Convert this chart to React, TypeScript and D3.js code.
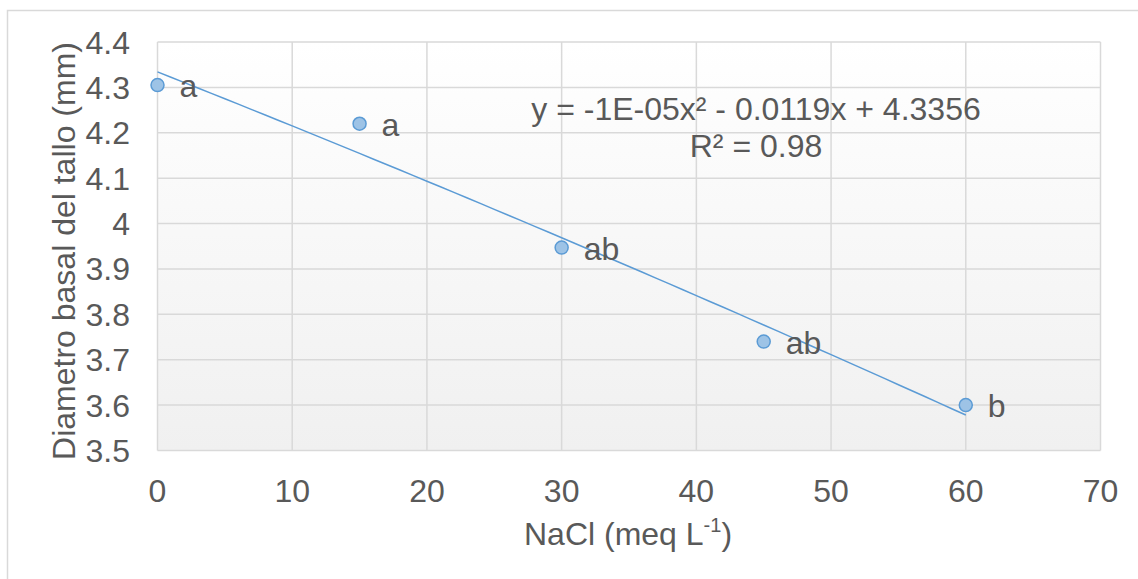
import React from "react";
import * as d3 from "d3";

const nacl = [0, 15, 30, 45, 60];
const diametro = [4.305, 4.22, 3.947, 3.74, 3.6];
const letras = ["a", "a", "ab", "ab", "b"];
const xTicks = [0, 10, 20, 30, 40, 50, 60, 70];
const yTicks = [3.5, 3.6, 3.7, 3.8, 3.9, 4.0, 4.1, 4.2, 4.3, 4.4];
const ecuacion = "y = -1E-05x² - 0.0119x + 4.3356";
const r2Texto = "R² = 0.98";

// least-squares quadratic fit of the data (Excel polynomial trendline)
function fitQuadratic(xs: number[], ys: number[]) {
  const n = xs.length;
  let s = [0, 0, 0, 0, 0];
  let t = [0, 0, 0];
  for (let i = 0; i < n; i++) {
    const x = xs[i];
    for (let k = 0; k < 5; k++) s[k] += Math.pow(x, k);
    for (let k = 0; k < 3; k++) t[k] += Math.pow(x, k) * ys[i];
  }
  const A = [
    [s[0], s[1], s[2], t[0]],
    [s[1], s[2], s[3], t[1]],
    [s[2], s[3], s[4], t[2]],
  ];
  for (let i = 0; i < 3; i++) {
    for (let j = i + 1; j < 3; j++) {
      const f = A[j][i] / A[i][i];
      for (let k = i; k < 4; k++) A[j][k] -= f * A[i][k];
    }
  }
  const c = [0, 0, 0];
  for (let i = 2; i >= 0; i--) {
    let v = A[i][3];
    for (let k = i + 1; k < 3; k++) v -= A[i][k] * c[k];
    c[i] = v / A[i][i];
  }
  return (x: number) => c[0] + c[1] * x + c[2] * x * x;
}

export default function App() {
  const W = 1138;
  const H = 579;
  const left = 157.5;
  const right = 1100.5;
  const top = 42;
  const bottom = 450.5;
  const x = d3.scaleLinear().domain([0, 70]).range([left, right]);
  const y = d3.scaleLinear().domain([3.5, 4.4]).range([bottom, top]);
  const font = "'Liberation Sans', Arial, sans-serif";
  const txt = "#595959";
  const grid = "#d9d9d9";
  const fs = 32;

  const f = fitQuadratic(nacl, diametro);
  const trendX = d3.range(0, 60.0001, 1);
  const line = d3
    .line<number>()
    .x((d) => x(d))
    .y((d) => y(f(d)));

  return (
    <svg
      width={W}
      height={H}
      style={{ position: "absolute", left: 0, top: 0, background: "#fff" }}
      fontFamily={font}
    >
      <defs>
        <linearGradient id="bg" x1="0" y1="0" x2="0" y2="1">
          <stop offset="0" stopColor="#ffffff" />
          <stop offset="1" stopColor="#f0f0f0" />
        </linearGradient>
      </defs>
      <rect x={7.5} y={10.5} width={W} height={H} fill="#fff" stroke="#d9d9d9" strokeWidth={1.5} />
      <rect x={left} y={top} width={right - left} height={bottom - top} fill="url(#bg)" />
      {yTicks.map((t) => (
        <line key={"gy" + t} x1={left} x2={right} y1={y(t)} y2={y(t)} stroke={grid} strokeWidth={1.5} />
      ))}
      {xTicks.map((t) => (
        <line key={"gx" + t} x1={x(t)} x2={x(t)} y1={top} y2={bottom} stroke={grid} strokeWidth={1.5} />
      ))}
      {yTicks.map((t) => (
        <text
          key={"ty" + t}
          x={130}
          y={y(t)}
          dy="0.36em"
          textAnchor="end"
          fontSize={fs}
          fill={txt}
        >
          {d3.format("")(+t.toFixed(1))}
        </text>
      ))}
      {xTicks.map((t) => (
        <text key={"tx" + t} x={x(t)} y={502} textAnchor="middle" fontSize={fs} fill={txt}>
          {t}
        </text>
      ))}
      <text
        transform={`translate(75,251) rotate(-90)`}
        textAnchor="middle"
        fontSize={fs}
        fill={txt}
      >
        Diametro basal del tallo (mm)
      </text>
      <text x={628} y={545} textAnchor="middle" fontSize={fs} fill={txt}>
        NaCl (meq L
        <tspan fontSize={20} dy={-13}>-1</tspan>
        <tspan dy={13}>)</tspan>
      </text>
      <path d={line(trendX) || ""} fill="none" stroke="#5b9bd5" strokeWidth={1.5} />
      {nacl.map((v, i) => (
        <circle
          key={"p" + i}
          cx={x(v)}
          cy={y(diametro[i])}
          r={6.5}
          fill="#9dc3e6"
          stroke="#5b9bd5"
          strokeWidth={1.5}
        />
      ))}
      {nacl.map((v, i) => (
        <text
          key={"l" + i}
          x={x(v) + 22}
          y={y(diametro[i]) + 12}
          fontSize={fs}
          fill={txt}
        >
          {letras[i]}
        </text>
      ))}
      <text x={756} y={120} textAnchor="middle" fontSize={fs} fill={txt}>
        {ecuacion}
      </text>
      <text x={756} y={157} textAnchor="middle" fontSize={fs} fill={txt}>
        {r2Texto}
      </text>
    </svg>
  );
}
